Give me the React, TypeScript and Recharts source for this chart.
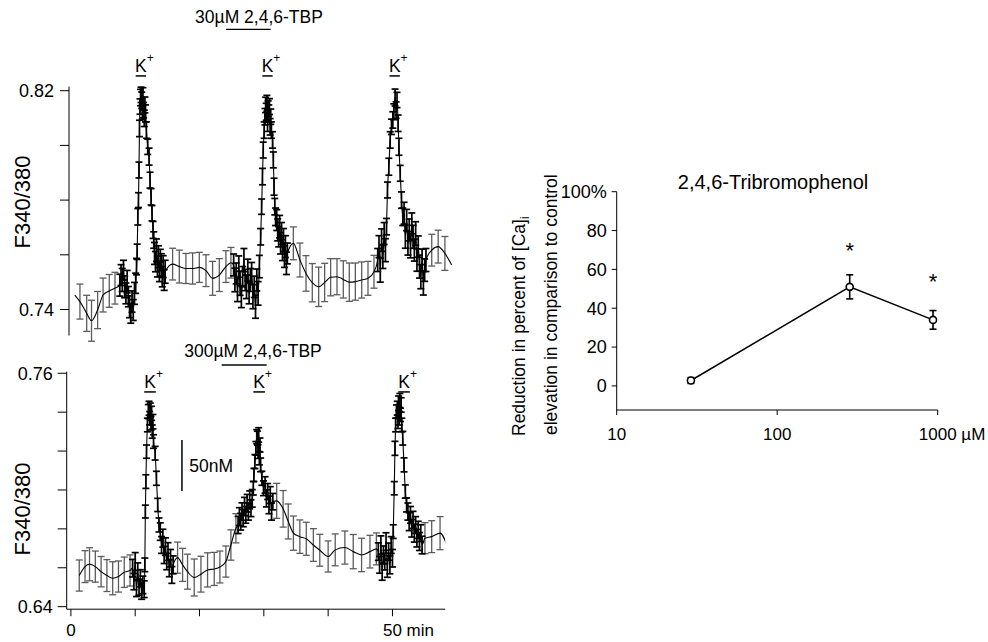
import React from 'react';
import { ComposedChart, Line, XAxis, YAxis, ErrorBar, ReferenceLine, ReferenceDot } from 'recharts';

const FONT = '"Liberation Sans", Arial, Helvetica, sans-serif';

// ---- top trace (30 µM 2,4,6-TBP), time in min, F340/380 ratio ----
// slow sampling (grey error bars)
const topSparseT = [0.6, 1.4, 2.45, 3.2, 4.15, 5.0, 5.96, 6.85,
  15.81, 16.85, 17.88, 18.92, 19.96, 21.0, 22.03, 23.07, 24.1, 24.88,
  34.58, 35.61, 36.55, 37.53, 38.52, 39.45, 40.38, 41.37, 42.35, 43.28, 44.22, 45.21, 46.19, 47.12,
  56.1, 57.1, 58.15, 59.2];
const topSparseV = [0.7453, 0.7429, 0.7386, 0.7359, 0.7398, 0.7453, 0.7468, 0.7478,
  0.7566, 0.7557, 0.755, 0.755, 0.7554, 0.7542, 0.7514, 0.7526, 0.7557, 0.7571,
  0.7642, 0.7581, 0.7532, 0.7498, 0.7483, 0.7499, 0.7518, 0.752, 0.751, 0.75, 0.7502, 0.7508, 0.7514, 0.7538,
  0.7617, 0.763, 0.7605, 0.7563];
const topSparseE = [0, 0.0064, 0.0066, 0.0075, 0.0068, 0.0062, 0.006, 0.0058,
  0.0058, 0.006, 0.0055, 0.0057, 0.0055, 0.0058, 0.0062, 0.006, 0.0058, 0.0056,
  0.006, 0.0062, 0.0065, 0.007, 0.0072, 0.007, 0.0068, 0.0066, 0.0068, 0.007, 0.0068, 0.0066, 0.0062, 0.006,
  0.0058, 0.006, 0.0062, 0];
// fast sampling around K+ (black error bars)
const topDenseT = [7.6, 7.79, 7.98, 8.17, 8.36, 8.55, 8.74, 8.93, 9.12, 9.31, 9.5, 9.69, 9.88, 10.07,
  10.2, 10.3, 10.4, 10.5, 10.58, 10.66, 10.74, 10.82,
  10.9, 11.0, 11.1, 11.2, 11.3, 11.4, 11.5, 11.6,
  11.73, 11.94, 12.15, 12.3, 12.46, 12.61, 12.77, 12.88,
  13.0, 13.15, 13.3, 13.45, 13.6, 13.75, 13.9, 14.05, 14.2, 14.35, 14.5, 14.65,
  25.3, 25.5, 25.7, 25.9, 26.1, 26.3, 26.5, 26.7, 26.9, 27.1, 27.3, 27.5, 27.7, 27.9, 28.1, 28.3, 28.5, 28.7, 28.9, 29.1, 29.3,
  29.5, 29.65, 29.78, 29.9, 30.05,
  30.17, 30.27, 30.37, 30.47, 30.57, 30.67, 30.77, 30.87, 30.97, 31.07, 31.17,
  31.35, 31.47, 31.58, 31.7, 31.82,
  32.0, 32.15, 32.3, 32.45, 32.6, 32.75, 32.9, 33.05, 33.2, 33.35, 33.5, 33.65,
  47.7, 47.9, 48.1, 48.3, 48.5, 48.7, 48.9,
  49.07, 49.22, 49.43, 49.64, 49.84, 50.05, 50.2, 50.4, 50.56, 50.7, 50.87, 51.0, 51.2, 51.4, 51.6,
  51.8, 52.0, 52.2, 52.4, 52.6, 52.8, 53.0, 53.2, 53.4, 53.6, 53.8, 54.0, 54.2, 54.4, 54.6, 54.8, 55.0, 55.2];
const topDenseV = [0.7489, 0.7526, 0.7508, 0.7544, 0.7483, 0.7459, 0.7502, 0.7447, 0.741, 0.7386, 0.7429, 0.7398, 0.7459, 0.7496,
  0.7557, 0.7611, 0.7739, 0.78, 0.791, 0.8062, 0.8142, 0.8175,
  0.8185, 0.8165, 0.8123, 0.818, 0.8129, 0.8099, 0.8148, 0.8117,
  0.8056, 0.7995, 0.7959, 0.7873, 0.7812, 0.7752, 0.7691, 0.7654,
  0.7605, 0.7575, 0.7617, 0.7557, 0.7593, 0.7538, 0.7581, 0.7563, 0.752, 0.7557, 0.7508, 0.7538,
  0.7563, 0.7508, 0.7532, 0.7471, 0.7557, 0.7496, 0.7447, 0.752, 0.7581, 0.7508, 0.7483, 0.7544, 0.7459, 0.7508, 0.7532, 0.7447, 0.7483, 0.741, 0.7508, 0.7459, 0.7557,
  0.7666, 0.7776, 0.7886, 0.7983, 0.8056,
  0.8105, 0.8148, 0.8123, 0.8154, 0.8081, 0.8135, 0.8117, 0.8142, 0.8068, 0.8105, 0.8056,
  0.802, 0.7947, 0.7849, 0.7776, 0.7739,
  0.7727, 0.7691, 0.7666, 0.7703, 0.7642, 0.7678, 0.7617, 0.7654, 0.7593, 0.763, 0.7569, 0.7605,
  0.7581, 0.763, 0.7544, 0.7654, 0.7593, 0.7678, 0.7617,
  0.7703, 0.7837, 0.7922, 0.802, 0.8068, 0.8093, 0.8123, 0.8175, 0.8129, 0.8166, 0.8081, 0.7995, 0.7898, 0.78, 0.7739,
  0.7752, 0.7666, 0.7727, 0.7642, 0.7691, 0.763, 0.7715, 0.7666, 0.7617, 0.7678, 0.7581, 0.763, 0.7557, 0.752, 0.7581, 0.7496, 0.7544, 0.7581];
const topDenseE = [0.004, 0.0038, 0.0042, 0.0036, 0.004, 0.0038, 0.0041, 0.0037, 0.004, 0.0036, 0.0039, 0.0038, 0.004, 0.0037,
  0.003, 0.0028, 0.003, 0.0027, 0.0029, 0.003, 0.0028, 0.003,
  0.0028, 0.003, 0.0027, 0.0031, 0.0028, 0.003, 0.0029, 0.0031,
  0.003, 0.0028, 0.0031, 0.0029, 0.003, 0.0028, 0.0031, 0.003,
  0.004, 0.0037, 0.0041, 0.0038, 0.004, 0.0036, 0.0039, 0.0041, 0.0037, 0.004, 0.0038, 0.0042,
  0.004, 0.0043, 0.0038, 0.0042, 0.0039, 0.0044, 0.004, 0.0037, 0.0042, 0.0039, 0.0043, 0.004, 0.0038, 0.0042, 0.004, 0.0044, 0.0039, 0.0042, 0.004, 0.0043, 0.0041,
  0.003, 0.0028, 0.003, 0.0029, 0.003,
  0.003, 0.0028, 0.0031, 0.0029, 0.003, 0.0028, 0.0031, 0.0029, 0.003, 0.0028, 0.003,
  0.003, 0.0029, 0.0031, 0.003, 0.0032,
  0.0038, 0.004, 0.0037, 0.0041, 0.0039, 0.004, 0.0038, 0.0042, 0.0039, 0.004, 0.0041, 0.0038,
  0.0042, 0.004, 0.0044, 0.0041, 0.0043, 0.004, 0.0042,
  0.003, 0.0029, 0.0031, 0.003, 0.0028, 0.003, 0.0029, 0.0031, 0.003, 0.0028, 0.003, 0.0031, 0.0029, 0.003, 0.0032,
  0.004, 0.0042, 0.0039, 0.0043, 0.004, 0.0041, 0.0038, 0.0042, 0.004, 0.0043, 0.0041, 0.0039, 0.0042, 0.0044, 0.004, 0.0043, 0.0041, 0.0042];
const topKTimes = [10.87, 30.56, 50.34];
const topDrugTimes = [24.11, 31.06];

// ---- bottom trace (300 µM 2,4,6-TBP) ----
const botSparseT = [1.3, 2.2, 2.9, 3.8, 4.7, 5.6, 6.5, 7.4, 8.3, 9.2,
  16.59, 17.37, 18.14, 19.18, 20.22, 21.25, 22.29, 23.17, 24.1, 24.88, 25.66,
  32.0, 33.0, 33.8, 34.6, 35.6, 36.6, 37.7, 38.7, 40.0, 41.1, 42.6, 43.9, 45.2, 46.5, 47.5,
  55.05, 56.1, 57.4, 58.7];
const botSparseV = [0.656, 0.6606, 0.6618, 0.6606, 0.658, 0.656, 0.6546, 0.6555, 0.6577, 0.6586,
  0.6652, 0.6615, 0.658, 0.655, 0.6567, 0.6589, 0.6594, 0.6604, 0.6632, 0.6717, 0.6803,
  0.6944, 0.6903, 0.6838, 0.6778, 0.676, 0.6749, 0.6717, 0.669, 0.6658, 0.6692, 0.6704, 0.6683, 0.6666, 0.6683, 0.6697,
  0.6752, 0.676, 0.6778, 0.6692];
const botSparseE = [0.008, 0.0082, 0.0085, 0.008, 0.0078, 0.0082, 0.0085, 0.008, 0.0078, 0.008,
  0.008, 0.0085, 0.009, 0.0095, 0.0092, 0.0088, 0.0085, 0.0082, 0.008, 0.0078, 0.0075,
  0.009, 0.0094, 0.009, 0.0088, 0.0086, 0.0085, 0.0084, 0.0082, 0.008, 0.0082, 0.0085, 0.0088, 0.0086, 0.0084, 0.0082,
  0.008, 0.0082, 0.0085, 0];
const botDenseT = [9.6, 9.8, 10.0, 10.2, 10.4, 10.6, 10.8, 11.0, 11.2, 11.4,
  11.5, 11.58, 11.66, 11.76, 11.9, 12.04,
  12.15, 12.25, 12.35, 12.45, 12.55, 12.65, 12.75, 12.85,
  13.1, 13.3, 13.5, 13.7,
  13.9, 14.1, 14.3, 14.5, 14.7, 14.9, 15.1, 15.3, 15.5, 15.7, 15.9,
  26.0, 26.2, 26.4, 26.6, 26.8, 27.0, 27.2, 27.4, 27.6, 27.8, 28.0, 28.2,
  28.36, 28.46, 28.61, 28.77, 28.9,
  29.0, 29.1, 29.2, 29.3, 29.4, 29.5,
  29.7, 29.95,
  30.2, 30.4, 30.6, 30.8, 31.0, 31.2, 31.4,
  47.8, 48.0, 48.2, 48.4, 48.6, 48.8, 49.0, 49.2, 49.4, 49.6, 49.8, 50.0,
  50.12, 50.28, 50.39, 50.49, 50.62,
  50.75, 50.85, 50.95, 51.05, 51.15, 51.25, 51.35, 51.45,
  51.6, 51.8, 52.0, 52.2,
  52.4, 52.6, 52.8, 53.0, 53.2, 53.4, 53.6, 53.8, 54.0, 54.2, 54.4, 54.6];
const botDenseV = [0.6598, 0.6529, 0.6632, 0.6495, 0.658, 0.65, 0.6546, 0.648, 0.6512, 0.649,
  0.6615, 0.6889, 0.7043, 0.7197, 0.7334, 0.7403,
  0.742, 0.7369, 0.741, 0.7343, 0.7394, 0.73, 0.7351, 0.7249,
  0.7189, 0.706, 0.6923, 0.682,
  0.6786, 0.6717, 0.6752, 0.6666, 0.6709, 0.6632, 0.6683, 0.6598, 0.6649, 0.6563, 0.6615,
  0.682, 0.6863, 0.6837, 0.6889, 0.6855, 0.6915, 0.6872, 0.6932, 0.6889, 0.6949, 0.6906, 0.6957,
  0.7009, 0.7077, 0.7146, 0.7214, 0.7274,
  0.7266, 0.7197, 0.7283, 0.7163, 0.7231, 0.7129,
  0.706, 0.7009,
  0.7026, 0.6957, 0.6992, 0.6923, 0.6974, 0.6889, 0.694,
  0.6683, 0.6615, 0.6717, 0.658, 0.6666, 0.6632, 0.6735, 0.6598, 0.6683, 0.6615, 0.6717, 0.6649,
  0.6786, 0.7009, 0.7214, 0.7334, 0.7403,
  0.742, 0.7351, 0.7446, 0.7369, 0.746, 0.7386, 0.7437, 0.7334,
  0.7266, 0.7129, 0.6992, 0.6923,
  0.6889, 0.6837, 0.6872, 0.6803, 0.6846, 0.6778, 0.682, 0.6752, 0.6795, 0.6735, 0.6778, 0.6717];
const botDenseE = [0.0045, 0.0042, 0.0046, 0.0043, 0.0045, 0.0041, 0.0044, 0.0042, 0.0045, 0.0043,
  0.0035, 0.0033, 0.0035, 0.0034, 0.0035, 0.0036,
  0.0036, 0.0034, 0.0037, 0.0035, 0.0036, 0.0034, 0.0037, 0.0035,
  0.0035, 0.0036, 0.0034, 0.0036,
  0.0045, 0.0043, 0.0046, 0.0044, 0.0045, 0.0042, 0.0046, 0.0044, 0.0045, 0.0043, 0.0046,
  0.0044, 0.0046, 0.0043, 0.0045, 0.0044, 0.0047, 0.0043, 0.0045, 0.0044, 0.0046, 0.0043, 0.0045,
  0.0035, 0.0034, 0.0036, 0.0035, 0.0036,
  0.0036, 0.0035, 0.0037, 0.0034, 0.0036, 0.0035,
  0.0036, 0.0038,
  0.0042, 0.0044, 0.0041, 0.0045, 0.0043, 0.0044, 0.0042,
  0.0045, 0.0043, 0.0047, 0.0044, 0.0046, 0.0043, 0.0045, 0.0047, 0.0044, 0.0046, 0.0043, 0.0045,
  0.0035, 0.0034, 0.0036, 0.0035, 0.0034,
  0.0036, 0.0035, 0.0037, 0.0035, 0.0036, 0.0034, 0.0037, 0.0035,
  0.0035, 0.0036, 0.0034, 0.0036,
  0.0044, 0.0046, 0.0043, 0.0045, 0.0044, 0.0046, 0.0043, 0.0045, 0.0044, 0.0046, 0.0043, 0.0045];
const botKTimes = [12.3, 29.27, 51.8];
const botDrugTimes = [23.45, 30.44];

// ---- dose response ----
const doseConc = [29, 283, 935];
const doseReduction = [2.8, 51, 34];
const doseSem = [1.5, 6.2, 4.8];
const sigConc = [283, 935];
const sigY = [70, 54];

type Row = { t: number; v: number; gs: number | null; bs: number | null };

function mergeTrace(sT: number[], sV: number[], sE: number[], dT: number[], dV: number[], dE: number[]): Row[] {
  const rows: Row[] = [];
  sT.forEach((t, i) => rows.push({ t, v: sV[i], gs: sE[i] || null, bs: null }));
  dT.forEach((t, i) => rows.push({ t, v: dV[i], gs: null, bs: dE[i] }));
  return rows.sort((a, b) => a.t - b.t);
}

const topRows = mergeTrace(topSparseT, topSparseV, topSparseE, topDenseT, topDenseV, topDenseE);
const botRows = mergeTrace(botSparseT, botSparseV, botSparseE, botDenseT, botDenseV, botDenseE);
const doseRows = doseConc.map((c, i) => ({ c, r: doseReduction[i], sem: doseSem[i] }));

const black = { stroke: '#000', strokeWidth: 1 };

function renderK(props: any) {
  const vb = props && props.viewBox;
  if (!vb) return null;
  const cx = vb.x + vb.width / 2;
  return (
    <text x={cx - 5.8} y={vb.y - 4} fontSize={17.5} fill="#000" textAnchor="start">
      K<tspan dy={-10} fontSize={12}>+</tspan>
    </text>
  );
}

function minuteTick(props: any) {
  const { x, y, payload } = props;
  if (payload.value === 0)
    return <text x={x} y={y} dy="0.71em" textAnchor="middle" fontSize={17} fill="#000">0</text>;
  if (payload.value === 50)
    return <text x={x - 9.5} y={y} dy="0.71em" textAnchor="start" fontSize={17} fill="#000">50 min</text>;
  return <g />;
}

function concTick(props: any) {
  const { x, y, payload } = props;
  if (payload.value === 1000)
    return <text x={x - 18.9} y={y} dy="0.71em" textAnchor="start" fontSize={17} fill="#000">1000 µM</text>;
  return <text x={x} y={y} dy="0.71em" textAnchor="middle" fontSize={17} fill="#000">{payload.value}</text>;
}

const edgeLabel = (lo: number, hi: number) => (v: number) =>
  Math.abs(v - lo) < 1e-6 || Math.abs(v - hi) < 1e-6 ? v.toFixed(2) : '';

const abs = (left: number, top: number, extra: React.CSSProperties = {}): React.CSSProperties => ({
  position: 'absolute', left, top, whiteSpace: 'nowrap', lineHeight: 1, color: '#000', ...extra,
});

export default function App() {
  return (
    <div style={{ position: 'absolute', left: 0, top: 0, width: 988, height: 642, background: '#fff', fontFamily: FONT, overflow: 'hidden' }}>
      {/* top trace */}
      <div style={{ position: 'absolute', left: 0, top: 0 }}>
        <ComposedChart width={470} height={345} data={topRows} margin={{ top: 86.6, right: 16.4, bottom: 9.5, left: 9 }}>
          <XAxis dataKey="t" type="number" domain={[-0.3, 59.5]} allowDataOverflow hide />
          <YAxis type="number" domain={[0.7305, 0.8215]} allowDataOverflow width={60}
            ticks={[0.74, 0.76, 0.78, 0.8, 0.82]} interval={0} tickFormatter={edgeLabel(0.74, 0.82)}
            tickSize={9} tickMargin={6} axisLine={black} tickLine={black} tick={{ fill: '#000', fontSize: 18 }} />
          <Line dataKey="v" stroke="none" dot={false} isAnimationActive={false}>
            <ErrorBar dataKey="gs" direction="y" width={3.5} stroke="#5c5c5c" strokeWidth={1.3} isAnimationActive={false} />
          </Line>
          <Line type="monotone" dataKey="v" stroke="#000" strokeWidth={1.1} dot={false} isAnimationActive={false} />
          <Line dataKey="v" stroke="none" dot={false} isAnimationActive={false}>
            <ErrorBar dataKey="bs" direction="y" width={3.5} stroke="#000" strokeWidth={1.7} isAnimationActive={false} />
          </Line>
          {topKTimes.map((k) => (
            <ReferenceLine key={k} segment={[{ x: k - 0.8, y: 0.8254 }, { x: k + 0.8, y: 0.8254 }]}
              stroke="#000" strokeWidth={1.5} ifOverflow="visible" label={renderK} />
          ))}
          <ReferenceLine segment={[{ x: topDrugTimes[0], y: 0.8424 }, { x: topDrugTimes[1], y: 0.8424 }]}
            stroke="#000" strokeWidth={1.2} ifOverflow="visible" />
        </ComposedChart>
      </div>

      {/* bottom trace */}
      <div style={{ position: 'absolute', left: 0, top: 330 }}>
        <ComposedChart width={470} height={312} data={botRows} margin={{ top: 41.7, right: 24.8, bottom: 2.8, left: 6.7 }}>
          <XAxis dataKey="t" type="number" domain={[-0.65, 58.2]} allowDataOverflow height={30}
            ticks={[0, 10, 20, 30, 40, 50]} interval={0} tick={minuteTick}
            tickSize={7} tickMargin={8} axisLine={black} tickLine={black} />
          <YAxis type="number" domain={[0.6387, 0.7608]} allowDataOverflow width={60}
            ticks={[0.64, 0.66, 0.68, 0.7, 0.72, 0.74, 0.76]} interval={0} tickFormatter={edgeLabel(0.64, 0.76)}
            tickSize={9} tickMargin={5} axisLine={black} tickLine={black} tick={{ fill: '#000', fontSize: 18 }} />
          <Line dataKey="v" stroke="none" dot={false} isAnimationActive={false}>
            <ErrorBar dataKey="gs" direction="y" width={3.5} stroke="#5c5c5c" strokeWidth={1.3} isAnimationActive={false} />
          </Line>
          <Line type="monotone" dataKey="v" stroke="#000" strokeWidth={1.1} dot={false} isAnimationActive={false} />
          <Line dataKey="v" stroke="none" dot={false} isAnimationActive={false}>
            <ErrorBar dataKey="bs" direction="y" width={3.5} stroke="#000" strokeWidth={1.7} isAnimationActive={false} />
          </Line>
          {botKTimes.map((k) => (
            <ReferenceLine key={k} segment={[{ x: k - 0.9, y: 0.7504 }, { x: k + 0.9, y: 0.7504 }]}
              stroke="#000" strokeWidth={1.5} ifOverflow="visible" label={renderK} />
          ))}
          <ReferenceLine segment={[{ x: botDrugTimes[0], y: 0.7642 }, { x: botDrugTimes[1], y: 0.7642 }]}
            stroke="#444" strokeWidth={2} ifOverflow="visible" />
          <ReferenceLine segment={[{ x: 17.27, y: 0.6995 }, { x: 17.27, y: 0.7257 }]}
            stroke="#000" strokeWidth={1.5} ifOverflow="visible" />
        </ComposedChart>
      </div>

      {/* dose response */}
      <div style={{ position: 'absolute', left: 500, top: 150 }}>
        <ComposedChart width={488} height={300} data={doseRows} margin={{ top: 41.7, right: 50.3, bottom: 10, left: 56.7 }}>
          <XAxis dataKey="c" type="number" scale="log" domain={[10, 1000]} allowDataOverflow height={30}
            ticks={[10, 100, 1000]} interval={0} tick={concTick}
            tickSize={5} tickMargin={13} axisLine={black} tickLine={black} />
          <YAxis type="number" domain={[-12.4, 100]} allowDataOverflow width={60}
            ticks={[0, 20, 40, 60, 80, 100]} interval={0} tickFormatter={(v: number) => (v === 100 ? '100%' : String(v))}
            tickSize={5} tickMargin={5} axisLine={black} tickLine={black} tick={{ fill: '#000', fontSize: 18 }} />
          <Line dataKey="r" stroke="#000" strokeWidth={1.5} isAnimationActive={false}
            dot={{ r: 3.5, fill: '#fff', stroke: '#000', strokeWidth: 1.6 }}>
            <ErrorBar dataKey="sem" direction="y" width={3.5} stroke="#000" strokeWidth={1.6} isAnimationActive={false} />
          </Line>
          {sigConc.map((c, i) => (
            <ReferenceDot key={c} x={c} y={sigY[i]} r={0} fill="none" stroke="none" ifOverflow="visible"
              label={{ value: '*', position: 'center', fontSize: 22, fill: '#000' }} />
          ))}
        </ComposedChart>
      </div>

      {/* text annotations */}
      <div style={abs(259, 9.4, { fontSize: 17.5, transform: 'translateX(-50%)' })}>30µM 2,4,6-TBP</div>
      <div style={abs(253, 342.7, { fontSize: 17.5, transform: 'translateX(-50%)' })}>300µM 2,4,6-TBP</div>
      <div style={abs(189.3, 457.8, { fontSize: 17.5 })}>50nM</div>
      <div style={abs(23.3, 201.7, { fontSize: 22, transform: 'translate(-50%, -50%) rotate(-90deg)' })}>F340/380</div>
      <div style={abs(23.3, 509, { fontSize: 22, transform: 'translate(-50%, -50%) rotate(-90deg)' })}>F340/380</div>
      <div style={abs(773, 172.4, { fontSize: 20, transform: 'translateX(-50%)' })}>2,4,6-Tribromophenol</div>
      <div style={abs(510.7, 436, { fontSize: 17.5, transformOrigin: '0 0', transform: 'rotate(-90deg)' })}>
        Reduction in percent of [Ca]<span style={{ fontSize: 12, position: 'relative', top: 4 }}>i</span>
      </div>
      <div style={abs(542.7, 435, { fontSize: 17.5, transformOrigin: '0 0', transform: 'rotate(-90deg)' })}>
        elevation in comparison to control
      </div>
    </div>
  );
}
